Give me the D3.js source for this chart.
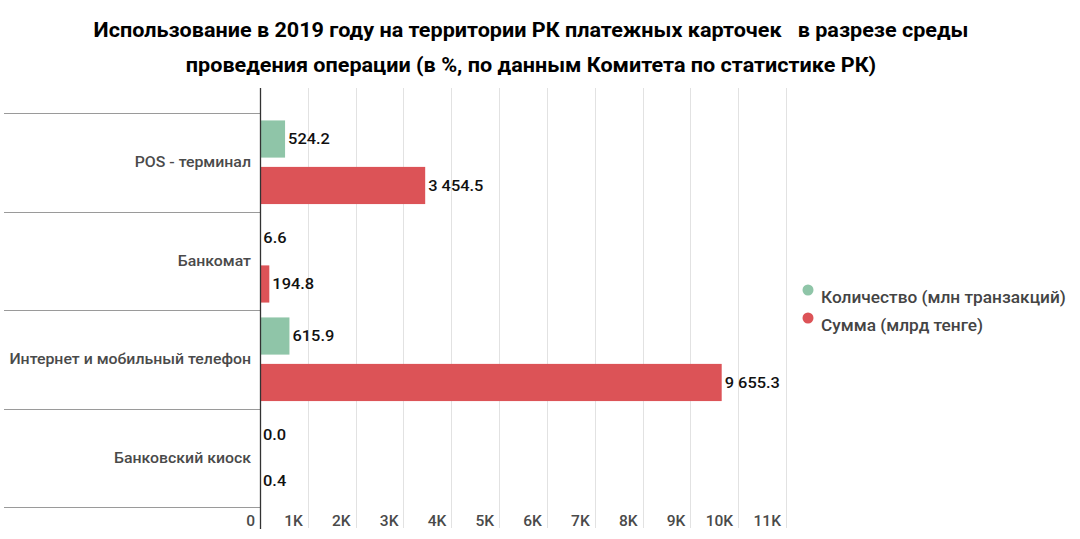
<!DOCTYPE html>
<html><head><meta charset="utf-8">
<script src="https://cdn.jsdelivr.net/npm/d3@7"></script>
<style>body{margin:0;background:#fff}svg{display:block;font-family:Roboto,"Noto Sans",sans-serif}</style>
</head><body><svg id="c" width="1080" height="539"></svg>
<script>
const titleLines = ["Использование в 2019 году на территории РК платежных карточек   в разрезе среды", "проведения операции (в %, по данным Комитета по статистике РК)"];
const categories = ["POS - терминал", "Банкомат", "Интернет и мобильный телефон", "Банковский киоск"];
const seriesNames = ["Количество (млн транзакций)", "Сумма (млрд тенге)"];
const countValues = [524.2, 6.6, 615.9, 0.0];
const sumValues = [3454.5, 194.8, 9655.3, 0.4];
const tickValues = [0, 1000, 2000, 3000, 4000, 5000, 6000, 7000, 8000, 9000, 10000, 11000];
const tickLabels = ["0", "1K", "2K", "3K", "4K", "5K", "6K", "7K", "8K", "9K", "10K", "11K"];
const colors = ["#8fc5a8", "#dc5357"];

const SX = 1.08; // horizontal text stretch seen in the reference
const svg = d3.select("#c");
const x = d3.scaleLinear().domain([0, 11000]).range([260, 786]);
const y = d3.scaleBand().domain(categories).range([113, 507]).paddingInner(0).paddingOuter(0);
const ySub = d3.scaleBand().domain([0, 1]).range([0, y.bandwidth()]).paddingInner(0.2).paddingOuter(0.16);
const loc = d3.formatLocale({decimal: ".", thousands: " ", grouping: [3], currency: ["", ""]});
const fmt = loc.format(",.1f");
const tr = (px, py) => `translate(${px},${py}) scale(${SX},1)`;

// title
svg.append("g").selectAll("text").data(titleLines).join("text")
  .attr("transform", (d, i) => tr(531, 37 + i * 35))
  .attr("text-anchor", "middle").attr("font-size", 20).attr("font-weight", 700)
  .attr("fill", "#000").style("white-space", "pre").text(d => d);

// gridlines
svg.append("g").selectAll("line").data(tickValues.slice(1)).join("line")
  .attr("x1", d => Math.round(x(d)) + 0.5).attr("x2", d => Math.round(x(d)) + 0.5).attr("y1", 88).attr("y2", 528)
  .attr("stroke", "#e2e2e2").attr("stroke-width", 1);

// category separators
const seps = categories.map(c => y(c)).concat([y.range()[1]]);
svg.append("g").selectAll("line").data(seps).join("line")
  .attr("x1", 4).attr("x2", 260).attr("y1", d => Math.round(d) + 0.5).attr("y2", d => Math.round(d) + 0.5)
  .attr("stroke", "#9a9a9a").attr("stroke-width", 1);

// bars
const series = [countValues, sumValues];
series.forEach((vals, si) => {
  const g = svg.append("g");
  g.selectAll("rect").data(vals).join("rect")
    .attr("x", x(0)).attr("y", (d, i) => y(categories[i]) + ySub(si))
    .attr("width", d => x(d) - x(0)).attr("height", ySub.bandwidth())
    .attr("fill", colors[si]);
  g.selectAll("text").data(vals).join("text")
    .attr("transform", (d, i) => tr(x(d) + 3, y(categories[i]) + ySub(si) + ySub.bandwidth() / 2))
    .attr("dy", "0.35em").attr("font-size", 15.2).attr("font-weight", 500).attr("fill", "#111")
    .text(d => fmt(d));
});

// axis line
svg.append("line").attr("x1", 260.5).attr("x2", 260.5).attr("y1", 88).attr("y2", 529)
  .attr("stroke", "#333").attr("stroke-width", 1.3);

// category labels
svg.append("g").selectAll("text").data(categories).join("text")
  .attr("transform", d => tr(251, y(d) + y.bandwidth() / 2)).attr("dy", "0.35em")
  .attr("text-anchor", "end").attr("font-size", 14.7).attr("font-weight", 500).attr("fill", "#4a4a4a")
  .text(d => d);

// tick labels
svg.append("g").selectAll("text").data(tickValues).join("text")
  .attr("transform", d => tr(x(d) - 5, 526))
  .attr("text-anchor", "end").attr("font-size", 14.4).attr("font-weight", 500).attr("fill", "#4a4a4a")
  .text((d, i) => tickLabels[i]);

// legend
const lg = svg.append("g");
seriesNames.forEach((n, i) => {
  lg.append("circle").attr("cx", 808).attr("cy", 290 + i * 28).attr("r", 5.5).attr("fill", colors[i]);
  lg.append("text").attr("transform", tr(821, 303 + i * 28)).attr("font-size", 16).attr("font-weight", 500)
    .attr("fill", "#444").text(n);
});
</script></body></html>
